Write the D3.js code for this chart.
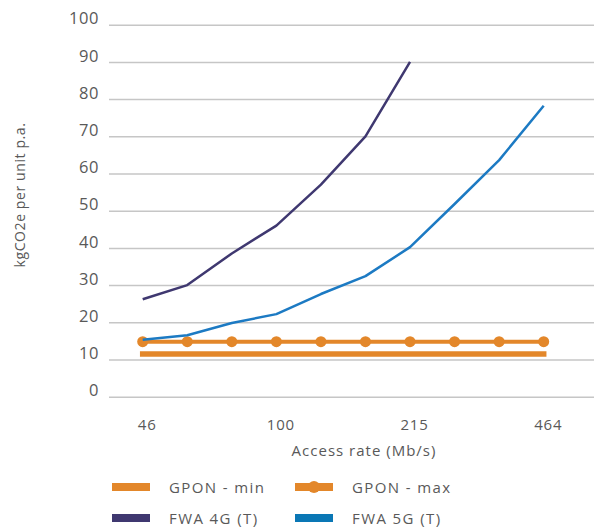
<!DOCTYPE html>
<html>
<head>
<meta charset="utf-8">
<script src="https://cdn.jsdelivr.net/npm/d3@7"></script>
<style>
  html, body { margin: 0; padding: 0; background: #fff; }
  svg { display: block; }
  text { font-family: "Open Sans", "Lato", sans-serif; fill: #595959; }
</style>
</head>
<body>
<svg id="chart" width="594" height="530"></svg>
<script>
// ---- data ----
const categories = ["46", "59", "77", "100", "129", "167", "215", "278", "359", "464"];
const xTickLabels = ["46", "100", "215", "464"];
const yTicks = [0, 10, 20, 30, 40, 50, 60, 70, 80, 90, 100];
const gponMin = [11.5, 11.5, 11.5, 11.5, 11.5, 11.5, 11.5, 11.5, 11.5, 11.5];
const gponMax = [14.8, 14.8, 14.8, 14.8, 14.8, 14.8, 14.8, 14.8, 14.8, 14.8];
const fwa4g = [26.2, 30.0, 38.5, 46.0, 57.0, 70.0, 90.0];
const fwa5g = [15.3, 16.5, 19.8, 22.2, 27.6, 32.4, 40.2, 51.8, 63.6, 78.2];
const seriesNames = ["GPON - min", "GPON - max", "FWA 4G (T)", "FWA 5G (T)"];

const colors = { orange: "#E3872A", purple: "#3F3870", blue: "#1C7AC3", blueLegend: "#0A77B5" };

const svg = d3.select("#chart");
const x = d3.scalePoint().domain(categories).range([142.7, 543.7]);
const y = d3.scaleLinear().domain([0, 100]).range([396.7, 24.7]);

// gridlines + y labels
const yAxis = d3.axisLeft(y).tickValues(yTicks).tickSize(-485).tickPadding(10).tickFormat(d3.format("d"));
const gy = svg.append("g").attr("transform", "translate(109,0)").call(yAxis);
gy.select(".domain").remove();
gy.selectAll(".tick line").attr("stroke", "#c6c6c6").attr("stroke-width", 1.5);
gy.selectAll(".tick text").attr("font-size", 16.5).attr("dy", "-0.05em").attr("fill", "#595959")
  .style("font-family", "'Open Sans', sans-serif").style("letter-spacing", "0.6px");

// x axis labels
const xAxis = d3.axisBottom(x).tickValues(xTickLabels).tickSize(0).tickPadding(0);
const gx = svg.append("g").attr("transform", "translate(4,419)").call(xAxis);
gx.select(".domain").remove();
gx.selectAll(".tick text").attr("font-size", 15).attr("fill", "#595959")
  .style("font-family", "'Open Sans', sans-serif").style("letter-spacing", "0.8px");

// titles
svg.append("text").attr("x", 364).attr("y", 456).attr("text-anchor", "middle")
  .attr("font-size", 15).style("letter-spacing", "1px").text("Access rate (Mb/s)");
svg.append("text").attr("transform", "translate(25,195) rotate(-90)").attr("text-anchor", "middle")
  .attr("font-size", 14).style("letter-spacing", "0.6px").text("kgCO2e per unit p.a.");

const line = d3.line().x((d, i) => x(categories[i])).y(d => y(d));

// GPON min
svg.append("path").datum(gponMin).attr("d", line).attr("fill", "none")
  .attr("stroke", colors.orange).attr("stroke-width", 5.5).attr("stroke-linecap", "square");
// GPON max
svg.append("path").datum(gponMax).attr("d", line).attr("fill", "none")
  .attr("stroke", colors.orange).attr("stroke-width", 4);
svg.append("g").selectAll("circle").data(gponMax).join("circle")
  .attr("cx", (d, i) => x(categories[i])).attr("cy", d => y(d)).attr("r", 5.5).attr("fill", colors.orange);
// FWA 5G
svg.append("path").datum(fwa5g).attr("d", line).attr("fill", "none")
  .attr("stroke", colors.blue).attr("stroke-width", 2.5).attr("stroke-linejoin", "round");
// FWA 4G
svg.append("path").datum(fwa4g).attr("d", line).attr("fill", "none")
  .attr("stroke", colors.purple).attr("stroke-width", 2.5).attr("stroke-linejoin", "round");

// legend
const legendItems = [
  { name: seriesNames[0], color: colors.orange, marker: false, x: 112, y: 487 },
  { name: seriesNames[1], color: colors.orange, marker: true, x: 295, y: 487 },
  { name: seriesNames[2], color: colors.purple, marker: false, x: 112, y: 518 },
  { name: seriesNames[3], color: colors.blueLegend, marker: false, x: 295, y: 518 }
];
const lg = svg.append("g").selectAll("g").data(legendItems).join("g")
  .attr("transform", d => `translate(${d.x},${d.y})`);
lg.append("rect").attr("x", 0).attr("y", -4).attr("width", 38).attr("height", 8).attr("fill", d => d.color);
lg.filter(d => d.marker).append("circle").attr("cx", 19).attr("cy", 0).attr("r", 6).attr("fill", d => d.color);
lg.append("text").attr("x", 57).attr("y", 5.5).attr("font-size", 15)
  .style("letter-spacing", "1.4px").text(d => d.name);
</script>
</body>
</html>
